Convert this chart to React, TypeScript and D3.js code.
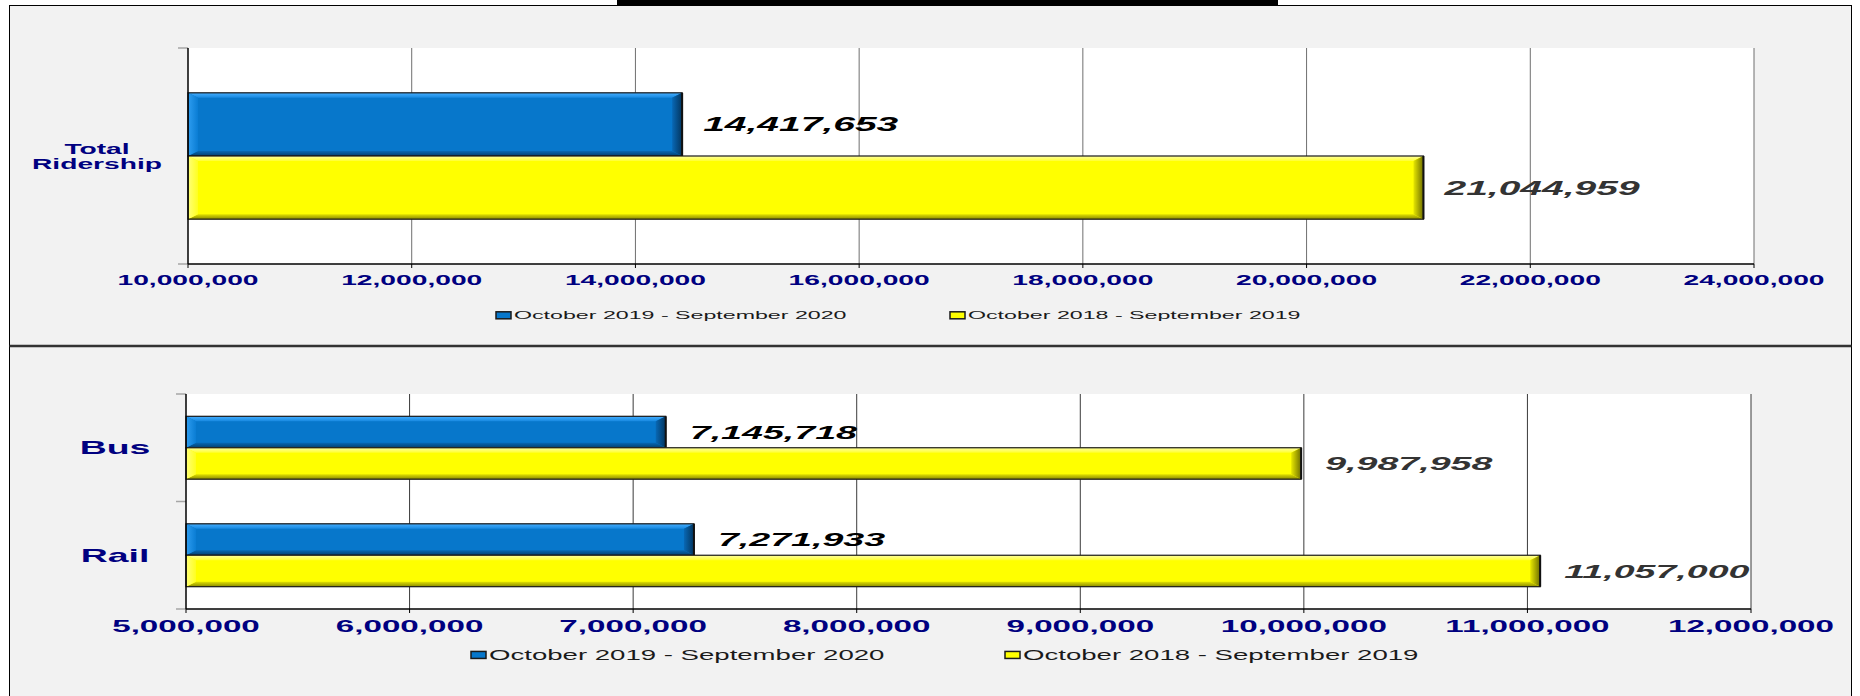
import React from "react";
import * as d3 from "d3";

// ridership data
const seriesNames = ["October 2019 - September 2020", "October 2018 - September 2019"];

const totalCategories = ["Total Ridership"];
const totalCurrent = [14417653];
const totalPrior = [21044959];
const totalTicks = [10000000, 12000000, 14000000, 16000000, 18000000, 20000000, 22000000, 24000000];

const modeCategories = ["Bus", "Rail"];
const modeCurrent = [7145718, 7271933];
const modePrior = [9987958, 11057000];
const modeTicks = [5000000, 6000000, 7000000, 8000000, 9000000, 10000000, 11000000, 12000000];

const W = 1860;
const H = 696;
const SX = 2; // the original chart is stretched horizontally
const FONT = "'Liberation Sans', Arial, Helvetica, sans-serif";
const NAVY = "#000080";
const fmt = d3.format(",");

const palettes: Record<string, any> = {
  blue: {
    base: "#0777CB",
    top: ["#45AEFF", "#1688E0"],
    bot: ["#0768B4", "#043F6E"],
    right: ["#0868B5", "#03355E"],
    left: ["#2E9DF0", "#0A7DD4"],
    label: "#000000",
  },
  yellow: {
    base: "#FFFF00",
    top: ["#FFFFA0", "#FFFF30"],
    bot: ["#E2E200", "#8A8A00"],
    right: ["#E8E800", "#6E6E00"],
    left: ["#FFFF78", "#FFFF20"],
    label: "#333333",
  },
};
const seriesPal = ["blue", "yellow"];

const SText = ({ x, y, size, weight = "bold", italic = false, fill, anchor = "start", children }: any) => (
  <text
    transform={`translate(${x},${y}) scale(${SX},1)`}
    fontFamily={FONT}
    fontSize={size}
    fontWeight={weight}
    fontStyle={italic ? "italic" : "normal"}
    fill={fill}
    textAnchor={anchor}
  >
    {children}
  </text>
);

const Gradients = () => (
  <defs>
    {Object.keys(palettes).map((k) => {
      const p = palettes[k];
      return (
        <React.Fragment key={k}>
          <linearGradient id={`${k}-top`} x1="0" y1="0" x2="0" y2="1">
            <stop offset="0" stopColor={p.top[0]} />
            <stop offset="1" stopColor={p.top[1]} />
          </linearGradient>
          <linearGradient id={`${k}-bot`} x1="0" y1="0" x2="0" y2="1">
            <stop offset="0" stopColor={p.bot[0]} />
            <stop offset="1" stopColor={p.bot[1]} />
          </linearGradient>
          <linearGradient id={`${k}-right`} x1="0" y1="0" x2="1" y2="0">
            <stop offset="0" stopColor={p.right[0]} />
            <stop offset="1" stopColor={p.right[1]} />
          </linearGradient>
          <linearGradient id={`${k}-left`} x1="0" y1="0" x2="1" y2="0">
            <stop offset="0" stopColor={p.left[0]} />
            <stop offset="1" stopColor={p.left[1]} />
          </linearGradient>
        </React.Fragment>
      );
    })}
  </defs>
);

// bar with a bevelled edge, like the office chart it copies
const BevelBar = ({ x0, x1, y0, y1, pal }: any) => {
  const bx = 10;
  const by = 5;
  const p = palettes[pal];
  return (
    <g>
      <rect x={x0} y={y0} width={x1 - x0} height={y1 - y0} fill={p.base} />
      <polygon points={`${x0},${y0} ${x1},${y0} ${x1 - bx},${y0 + by} ${x0 + bx},${y0 + by}`} fill={`url(#${pal}-top)`} />
      <polygon points={`${x0},${y1} ${x1},${y1} ${x1 - bx},${y1 - by} ${x0 + bx},${y1 - by}`} fill={`url(#${pal}-bot)`} />
      <polygon points={`${x0},${y0} ${x0 + bx},${y0 + by} ${x0 + bx},${y1 - by} ${x0},${y1}`} fill={`url(#${pal}-left)`} />
      <polygon points={`${x1},${y0} ${x1 - bx},${y0 + by} ${x1 - bx},${y1 - by} ${x1},${y1}`} fill={`url(#${pal}-right)`} />
      <rect x={x0} y={y0} width={x1 - x0} height={y1 - y0} fill="none" stroke="#1a1a1a" strokeWidth={1.2} />
      <line x1={x1} x2={x1} y1={y0} y2={y1} stroke="#111" strokeWidth={2} />
    </g>
  );
};

const Panel = ({ cfg }: any) => {
  const x = d3.scaleLinear().domain(cfg.domain).range([cfg.left, cfg.right]);
  const y = d3
    .scaleBand()
    .domain(cfg.categories)
    .range([cfg.top, cfg.bottom])
    .paddingInner(0.415)
    .paddingOuter(0.2075);
  const step = y.step();
  const half = y.bandwidth() / 2;
  const values = [cfg.current, cfg.prior];

  return (
    <g>
      <rect x={cfg.left} y={cfg.top} width={cfg.right - cfg.left} height={cfg.bottom - cfg.top} fill="#ffffff" />
      {cfg.ticks.slice(1).map((t: number) => (
        <line key={t} x1={x(t)} x2={x(t)} y1={cfg.top} y2={cfg.bottom} stroke={cfg.gridColor} strokeWidth={1} />
      ))}
      {/* category ticks on the left axis */}
      {d3.range(cfg.categories.length + 1).map((i) => (
        <line
          key={i}
          x1={cfg.left - 10}
          x2={cfg.left}
          y1={cfg.top + i * step}
          y2={cfg.top + i * step}
          stroke="#a6a6a6"
          strokeWidth={1.5}
        />
      ))}
      {cfg.categories.map((c: string, ci: number) =>
        values.map((vals, si) => {
          const y0 = y(c)! + si * half;
          return (
            <BevelBar key={c + si} x0={x(cfg.domain[0])} x1={x(vals[ci])} y0={y0} y1={y0 + half} pal={seriesPal[si]} />
          );
        })
      )}
      <line x1={cfg.left} x2={cfg.left} y1={cfg.top} y2={cfg.bottom} stroke="#000" strokeWidth={1.5} />
      <line x1={cfg.left} x2={cfg.right} y1={cfg.bottom} y2={cfg.bottom} stroke="#000" strokeWidth={1.5} />
      {cfg.ticks.map((t: number) => (
        <line key={t} x1={x(t)} x2={x(t)} y1={cfg.bottom} y2={cfg.bottom + 4} stroke="#000" strokeWidth={1} />
      ))}
      {cfg.ticks.map((t: number) => (
        <SText key={t} x={x(t)} y={cfg.tickBaseline} size={cfg.tickSize} fill={NAVY} anchor="middle">
          {fmt(t)}
        </SText>
      ))}
      {/* value labels */}
      {cfg.categories.map((c: string, ci: number) =>
        values.map((vals, si) => {
          const cy = y(c)! + si * half + half / 2;
          return (
            <SText
              key={c + si}
              x={x(vals[ci]) + cfg.labelGap}
              y={cy + cfg.labelSize * 0.36}
              size={cfg.labelSize}
              italic
              fill={palettes[seriesPal[si]].label}
            >
              {fmt(vals[ci])}
            </SText>
          );
        })
      )}
      {/* category names */}
      {cfg.categories.map((c: string) => {
        const lines = cfg.catLines ? cfg.catLines(c) : [c];
        const cy = y(c)! + y.bandwidth() / 2;
        const lh = cfg.catSize * 1.06;
        return lines.map((ln: string, i: number) => (
          <SText
            key={c + i}
            x={cfg.catX}
            y={cy + cfg.catSize * 0.36 + (i - (lines.length - 1) / 2) * lh}
            size={cfg.catSize}
            fill={NAVY}
            anchor="middle"
          >
            {ln}
          </SText>
        ));
      })}
      {/* legend */}
      {seriesNames.map((s, si) => (
        <g key={s}>
          <rect
            x={cfg.legendX[si]}
            y={cfg.legendY - cfg.legendSize * 0.62}
            width={15}
            height={7}
            fill={palettes[seriesPal[si]].base}
            stroke="#1a1a1a"
            strokeWidth={1.5}
          />
          <SText x={cfg.legendX[si] + 18} y={cfg.legendY} size={cfg.legendSize} weight="normal" fill="#1a1a1a">
            {s}
          </SText>
        </g>
      ))}
    </g>
  );
};

const topCfg = {
  domain: [10000000, 24000000],
  ticks: totalTicks,
  categories: totalCategories,
  current: totalCurrent,
  prior: totalPrior,
  left: 188,
  right: 1754,
  top: 48,
  bottom: 264,
  gridColor: "#6f6f6f",
  tickSize: 14.1,
  tickBaseline: 285,
  labelSize: 19.5,
  labelGap: 21,
  catSize: 14.1,
  catX: 97,
  catLines: (c: string) => c.split(" "),
  legendX: [496, 950],
  legendY: 319,
  legendSize: 11.6,
};

const bottomCfg = {
  domain: [5000000, 12000000],
  ticks: modeTicks,
  categories: modeCategories,
  current: modeCurrent,
  prior: modePrior,
  left: 186,
  right: 1751,
  top: 394,
  bottom: 609,
  gridColor: "#3a3a3a",
  tickSize: 16.6,
  tickBaseline: 632,
  labelSize: 18.8,
  labelGap: 24,
  catSize: 18.7,
  catX: 115,
  legendX: [471, 1005],
  legendY: 660,
  legendSize: 13.8,
};

export default function App() {
  return (
    <div style={{ position: "absolute", left: 0, top: 0, width: W, height: H, background: "#fff" }}>
      <svg width={W} height={H} style={{ display: "block" }}>
        <Gradients />
        <rect x={9.5} y={5.5} width={1842} height={340.5} fill="#f2f2f2" stroke="#000" strokeWidth={1} />
        <rect x={9.5} y={346} width={1842} height={360} fill="#f2f2f2" stroke="#000" strokeWidth={1} />
        <line x1={9.5} x2={1851.5} y1={346} y2={346} stroke="#333" strokeWidth={2.5} />
        <rect x={617} y={0} width={661} height={5} fill="#000" />
        <Panel cfg={topCfg} />
        <Panel cfg={bottomCfg} />
      </svg>
    </div>
  );
}
